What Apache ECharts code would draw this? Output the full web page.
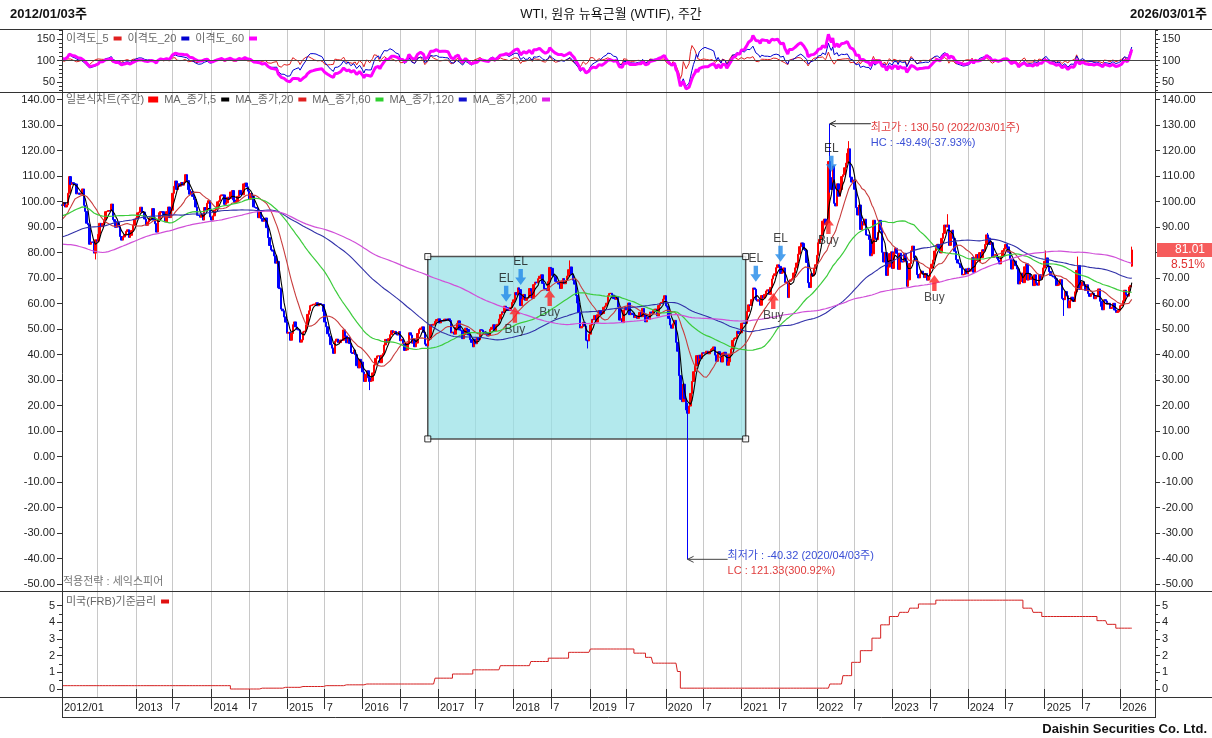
<!DOCTYPE html>
<html>
<head>
<meta charset="utf-8">
<script src="https://cdn.jsdelivr.net/npm/echarts/dist/echarts.min.js"></script>
<style>
  html, body { margin: 0; padding: 0; background: #fff; }
  #main { width: 1212px; height: 738px; }
</style>
</head>
<body>
<div id="main"></div>
<script>
var FONT = '"Liberation Sans", "Noto Sans CJK KR", sans-serif'

// weekly closes, one value per week (weeks start on Monday, first = 2012-01-16)
var w2012 = [98.46, 99.56, 97.84, 98.67, 103.24, 109.77, 106.70, 107.40, 107.06, 106.87, 103.02, 103.31, 102.83,
  103.05, 104.93, 98.49, 96.13, 91.48, 90.86, 83.23, 84.10, 84.03, 79.76, 84.96, 84.45, 87.10,
  91.44, 90.13, 91.40, 92.87, 96.01, 96.15, 96.47, 96.42, 99.00, 92.89, 92.19, 89.88, 91.86,
  90.05, 86.28, 84.86, 86.07, 86.92, 88.28, 88.91, 85.93, 86.73, 88.66, 90.80, 93.09]
var w2013 = [93.56, 95.56, 95.88, 97.77, 95.72, 95.86, 93.13, 90.68, 91.95, 93.45, 93.71, 97.23, 92.70,
  91.29, 88.01, 93.00, 95.61, 96.04, 96.02, 94.15, 91.97, 96.03, 97.85, 93.69, 96.56, 103.22,
  105.95, 108.05, 104.70, 106.94, 106.03, 107.46, 106.42, 107.65, 110.53, 108.21, 104.67, 102.87, 103.84,
  102.02, 100.81, 97.85, 94.61, 94.60, 93.84, 94.84, 92.72, 97.65, 96.60, 99.32, 100.32, 93.96]
var w2014 = [92.72, 94.37, 96.64, 97.49, 99.88, 100.30, 102.20, 102.59, 102.58, 98.89, 99.46, 101.67, 101.14,
  103.74, 104.30, 100.60, 99.76, 99.99, 102.02, 104.35, 102.71, 102.66, 106.91, 107.26, 105.74, 104.06,
  100.83, 103.13, 102.09, 97.88, 97.65, 97.35, 93.65, 95.96, 93.29, 92.27, 92.41, 93.54, 89.74,
  85.82, 82.75, 81.01, 80.54, 78.65, 75.82, 76.51, 66.15, 65.84, 57.81, 57.13, 54.73, 52.69]
var w2015 = [48.36, 48.69, 45.59, 48.24, 51.69, 52.78, 50.81, 49.76, 49.61, 44.84, 45.72, 48.87, 49.14,
  51.64, 55.74, 57.15, 59.15, 59.39, 59.69, 59.72, 60.30, 59.13, 59.96, 59.61, 59.63, 56.93,
  52.74, 50.89, 48.14, 47.12, 43.87, 42.50, 40.45, 45.22, 46.05, 44.63, 44.68, 45.70, 45.54,
  49.63, 47.26, 44.60, 46.59, 44.29, 40.74, 40.39, 41.71, 39.97, 35.62, 34.73, 38.10, 37.04]
var w2016 = [33.16, 29.42, 32.19, 33.62, 30.89, 29.44, 29.64, 32.78, 35.92, 38.50, 39.44, 39.46, 36.79,
  39.72, 40.36, 43.73, 45.92, 44.66, 46.21, 47.75, 49.33, 48.62, 49.07, 47.98, 47.64, 48.99,
  45.41, 45.95, 44.19, 41.60, 41.80, 44.49, 48.52, 47.64, 44.44, 45.88, 43.03, 44.48, 48.24,
  49.81, 50.35, 50.85, 48.70, 44.07, 43.41, 45.69, 46.06, 51.68, 51.50, 51.90, 53.02, 53.72]
var w2017 = [53.99, 52.37, 53.22, 53.17, 53.83, 53.86, 53.40, 53.99, 53.33, 48.49, 48.78, 47.97, 50.60,
  52.24, 53.18, 49.62, 49.33, 46.22, 47.84, 50.33, 49.80, 47.66, 45.83, 44.74, 43.01, 46.04,
  44.23, 46.54, 45.77, 49.71, 49.58, 48.82, 48.51, 47.87, 47.29, 47.48, 49.89, 50.66, 51.67,
  49.29, 51.45, 51.84, 53.90, 55.64, 56.74, 56.55, 58.95, 58.36, 57.36, 57.30, 58.47, 60.42]
var w2018 = [61.44, 64.30, 63.37, 66.14, 65.45, 59.20, 61.68, 63.55, 61.25, 62.04, 62.34, 65.88, 64.94,
  62.06, 67.39, 68.38, 68.10, 69.72, 70.70, 71.28, 67.88, 65.81, 65.74, 65.06, 68.58, 74.15,
  73.80, 71.01, 70.46, 68.69, 68.49, 67.63, 65.91, 68.72, 69.80, 67.75, 68.99, 70.78, 73.25,
  74.34, 71.34, 69.12, 67.59, 63.14, 60.19, 56.46, 50.42, 50.93, 52.61, 51.20, 45.59, 45.33,
  47.96]
var w2019 = [51.59, 53.80, 53.69, 55.26, 52.72, 55.59, 57.26, 55.80, 56.07, 58.52, 59.04, 60.14, 63.08,
  63.89, 64.00, 63.30, 61.94, 61.66, 62.76, 58.63, 53.50, 53.99, 52.51, 57.43, 58.47, 57.51,
  60.21, 55.63, 56.20, 55.66, 54.50, 54.87, 54.17, 55.10, 56.52, 54.85, 58.09, 55.91, 52.81,
  54.70, 53.78, 56.66, 56.20, 57.24, 57.72, 57.77, 55.17, 59.20, 60.07, 60.44, 61.72, 63.05]
var w2020 = [59.04, 58.54, 54.19, 51.56, 50.32, 52.05, 53.38, 44.76, 41.28, 31.73, 22.43, 21.51, 28.34,
  22.76, 18.27, 16.94, 19.78, 24.74, 29.43, 33.25, 35.49, 39.55, 36.26, 39.75, 38.49, 40.65,
  40.55, 40.59, 41.29, 40.27, 41.22, 42.01, 42.34, 42.97, 39.77, 37.33, 41.11, 40.25, 37.05,
  40.60, 40.88, 39.85, 35.79, 37.14, 40.13, 42.15, 45.53, 46.26, 46.57, 49.10, 48.23, 48.52]
var w2021 = [52.24, 52.36, 52.27, 52.20, 56.85, 59.47, 59.24, 61.50, 66.09, 65.61, 61.42, 60.97, 61.45,
  59.32, 63.13, 62.14, 63.58, 64.90, 65.37, 63.58, 66.32, 69.62, 70.91, 71.64, 74.05, 75.16,
  74.56, 71.81, 72.07, 73.95, 68.28, 68.44, 62.32, 68.74, 69.29, 69.72, 71.97, 73.98, 75.88,
  79.35, 82.28, 83.76, 83.57, 81.27, 80.79, 76.10, 68.15, 66.26, 71.67, 70.86, 73.79, 75.21]
var w2022 = [78.90, 83.82, 85.14, 86.82, 92.31, 93.10, 91.07, 91.59, 115.68, 109.33, 104.70, 113.90, 99.27,
  98.26, 106.95, 102.07, 104.69, 109.77, 110.49, 113.23, 115.07, 118.87, 120.67, 109.56, 107.62, 108.43,
  104.79, 97.59, 94.70, 98.62, 89.01, 92.09, 90.77, 93.06, 86.87, 86.79, 85.11, 78.74, 79.49,
  92.64, 85.61, 85.05, 87.90, 92.61, 88.96, 80.08, 76.28, 79.98, 71.02, 74.29, 79.56, 80.26]
var w2023 = [73.77, 79.86, 81.64, 79.68, 73.39, 79.72, 76.34, 76.32, 79.68, 76.68, 66.74, 69.26, 75.67,
  80.70, 82.52, 77.87, 76.78, 71.34, 70.04, 71.69, 72.67, 71.74, 70.17, 71.78, 69.16, 70.64,
  73.86, 75.42, 77.07, 80.58, 82.82, 83.19, 81.25, 79.83, 85.55, 87.51, 90.77, 90.03, 90.79,
  82.79, 87.69, 88.75, 85.54, 80.51, 77.17, 75.89, 75.54, 74.07, 71.23, 71.43, 73.56, 71.65]
var w2024 = [73.81, 72.68, 73.41, 78.01, 72.28, 76.84, 79.19, 76.49, 79.97, 78.01, 81.04, 80.63, 83.17,
  86.91, 85.66, 83.14, 83.85, 78.11, 78.26, 79.23, 77.72, 76.99, 75.53, 78.45, 80.73, 81.54,
  83.16, 82.21, 80.13, 77.16, 73.52, 76.84, 76.65, 74.83, 73.55, 67.67, 68.65, 71.92, 68.18,
  74.38, 75.56, 69.22, 71.78, 69.49, 70.38, 67.02, 71.24, 68.00, 67.20, 71.29, 69.46, 70.60,
  73.96]
var w2025 = [76.57, 77.88, 74.66, 72.53, 71.00, 70.74, 70.40, 69.76, 67.04, 67.18, 68.28, 69.36, 61.99,
  61.50, 64.68, 63.02, 58.29, 61.02, 62.49, 61.53, 60.79, 64.58, 72.98, 74.93, 65.52, 67.00,
  68.45, 67.34, 65.16, 67.33, 63.88, 62.80, 63.66, 64.01, 61.87, 62.69, 62.68, 65.72, 60.88,
  58.90, 57.54, 61.50, 60.98, 59.75, 60.09, 58.06, 58.55, 60.08, 57.44, 56.52, 56.74, 57.32]
var w2026 = [59.12, 59.44, 61.07, 65.21, 63.55, 62.89, 66.48, 67.02, 81.01]

// monthly closes 2008/01 .. 2012/01, used only to warm up the long moving averages
var histMonthly = [93, 95, 105, 112, 125, 134, 133, 116, 104, 77, 57, 41,
  42, 39, 48, 50, 59, 70, 64, 71, 69, 76, 78, 74,
  78, 76, 81, 84, 74, 75, 76, 77, 75, 82, 84, 89,
  89, 89, 103, 110, 101, 97, 97, 86, 86, 86, 97, 99,
  100.5]

// weeks whose open / high / low differ from the plain close-to-close candle
// [week, open, high, low]
var candleFix = [
  ['2012-01-16', 98.70, null, null],
  ['2012-06-25', null, null, 77.28],
  ['2016-02-08', null, null, 26.05],
  ['2018-10-01', null, 76.90, null],
  ['2018-12-24', null, null, 42.36],
  ['2020-04-20', null, 21.00, -40.32],
  ['2022-03-07', null, 130.50, 103.50],
  ['2022-06-06', null, 123.68, null],
  ['2023-09-25', null, 95.03, null],
  ['2024-04-08', null, 87.67, null],
  ['2025-01-13', null, 80.77, null],
  ['2025-04-07', null, null, 55.12],
  ['2025-06-16', null, 78.40, null],
  ['2026-03-02', 74.66, 82.30, 74.40]
]

// US effective policy rate, step changes
var rateDates = ['2012-01-01', '2014-04-07', '2014-08-25', '2014-12-15', '2015-03-16', '2015-07-01',
  '2015-10-05', '2016-01-11', '2016-12-19', '2017-03-13', '2017-06-19', '2017-10-30', '2018-03-26',
  '2018-06-18', '2018-09-24', '2019-01-01', '2019-08-01', '2019-09-27', '2019-11-01', '2020-03-01',
  '2020-03-16', '2022-03-07', '2022-05-06', '2022-06-20', '2022-08-01', '2022-09-26', '2022-11-07',
  '2022-12-19', '2023-02-06', '2023-03-27', '2023-05-08', '2023-07-31', '2024-09-20', '2024-11-11',
  '2024-12-23', '2025-09-15', '2025-11-03', '2025-12-15']
var rateValues = [0.2, 0.0, 0.05, 0.1, 0.15, 0.2,
  0.25, 0.3, 0.65, 0.9, 1.15, 1.4, 1.65,
  1.85, 2.2, 2.4, 2.15, 1.9, 1.55, 1.05,
  0.05, 0.3, 0.8, 1.6, 2.3, 3.05, 3.85,
  4.35, 4.6, 4.85, 5.1, 5.33, 4.85, 4.6,
  4.35, 4.1, 3.88, 3.65]

// strategy signals (arrow tip prices)
var elDates = ['2017-11-27', '2018-02-05', '2021-03-15', '2021-07-12', '2022-03-14']
var elPrices = [60.7, 67.3, 68.5, 76.4, 111.7]
var buyDates = ['2018-01-08', '2018-06-25', '2021-06-07', '2022-02-28', '2023-07-24']
var buyPrices = [58.7, 65.3, 64.1, 93.5, 71.2]

// drawn box
var boxDates = ['2016-11-14', '2021-01-25']
var boxPrices = [78.4, 6.9]

var highMark = { date: '2022-03-07', price: 130.50, text: '최고가 : 130.50 (2022/03/01주)', sub: 'HC : -49.49(-37.93%)' }
var lowMark = { date: '2020-04-20', price: -40.32, text: '최저가 : -40.32 (2020/04/03주)', sub: 'LC : 121.33(300.92%)' }
var lastPct = '8.51%'

var mainTicks = [-50, -40, -30, -20, -10, 0, 10, 20, 30, 40, 50, 60, 70, 80, 90, 100, 110, 120, 130, 140]
var topTicks = [50, 100, 150]
var topMinor = [30, 40, 60, 70, 80, 90, 110, 120, 130, 140, 160, 170]
var rateTicks = [0, 1, 2, 3, 4, 5]
var rateMinor = [0.5, 1.5, 2.5, 3.5, 4.5]

// ---------- build ----------
var closes = [].concat(w2012, w2013, w2014, w2015, w2016, w2017, w2018, w2019,
  w2020, w2021, w2022, w2023, w2024, w2025, w2026)
var padWeeks = 16
var DAY = 86400000
var t0 = Date.UTC(2012, 0, 16)
function two (n) { return (n < 10 ? '0' : '') + n }
function fmt (t) {
  var d = new Date(t)
  return d.getUTCFullYear() + '-' + two(d.getUTCMonth() + 1) + '-' + two(d.getUTCDate())
}
var dates = []
for (var i = 0; i < closes.length + padWeeks; i++) dates.push(fmt(t0 + i * 7 * DAY))

var marks = dates.map(function (d, i) {
  if (i === 0) return true
  var m = d.slice(5, 7)
  return m !== dates[i - 1].slice(5, 7) && (m === '01' || m === '07')
})
function isMark (i) { return marks[i] }
function xLabel (v, i) {
  if (i === 0) return v.slice(0, 4) + '/' + v.slice(5, 7)
  return v.slice(5, 7) === '01' ? v.slice(0, 4) : '7'
}

// warm-up weeks before the first week
var W = 199
var full = []
for (var k = W; k >= 1; k--) {
  var d = new Date(t0 - k * 7 * DAY)
  full.push(histMonthly[(d.getUTCFullYear() - 2008) * 12 + d.getUTCMonth()])
}
full = full.concat(closes)

function ma (n) {
  var out = []
  for (var i = 0; i < closes.length; i++) {
    var s = 0
    for (var j = 0; j < n; j++) s += full[W + i - j]
    out.push(+(s / n).toFixed(2))
  }
  return out
}
var ma5 = ma(5), ma20 = ma(20), ma60 = ma(60), ma120 = ma(120), ma200 = ma(200)
function disp (m) { return closes.map(function (c, i) { return +(c / m[i] * 100).toFixed(2) }) }

var fixMap = {}
candleFix.forEach(function (f) { fixMap[f[0]] = f })
var candles = closes.map(function (c, i) {
  var o = i > 0 ? closes[i - 1] : c
  var f = fixMap[dates[i]]
  if (f && f[1] != null) o = f[1]
  var hi = Math.max(o, c), lo = Math.min(o, c)
  if (f && f[2] != null) hi = f[2]
  if (f && f[3] != null) lo = f[3]
  return [o, c, lo, hi]
})

var rates = closes.map(function (c, i) {
  var v = null
  for (var k = 0; k < rateDates.length; k++) if (rateDates[k] <= dates[i]) v = rateValues[k]
  return v
})

var downArrow = 'path://M3,0 L7,0 L7,8 L10,8 L5,15 L0,8 L3,8 Z'
var upArrow = 'path://M5,0 L10,7 L7,7 L7,15 L3,15 L3,7 L0,7 Z'

function xAx (grid, withLabels) {
  return {
    type: 'category', gridIndex: grid, data: dates, boundaryGap: false,
    axisLine: { show: false },
    axisTick: withLabels ? { show: true, interval: isMark, length: 20, lineStyle: { color: '#333' } } : { show: false },
    axisLabel: withLabels ? {
      show: true, interval: isMark, formatter: xLabel, align: 'left', margin: 5, showMinLabel: true,
      padding: [0, 0, 0, 2], fontSize: 11, color: '#222', fontFamily: FONT
    } : { show: false },
    splitLine: { show: true, interval: isMark, lineStyle: { color: '#c8c8c8', width: 1 } }
  }
}
function yAx (grid, pos, min, max, ticks, fmtFn, tickLen) {
  return {
    type: 'value', gridIndex: grid, position: pos, min: min, max: max,
    axisLine: { show: false }, splitLine: { show: false },
    axisTick: { show: true, customValues: ticks, length: tickLen || 5, lineStyle: { color: '#333' } },
    axisLabel: fmtFn === null ? { show: false } : {
      customValues: ticks, margin: 7, fontSize: 11, color: '#222', fontFamily: FONT,
      formatter: fmtFn || function (v) { return String(v) }
    }
  }
}

var topRange = [25.58, 172.09], mainRange = [-52.94, 142.75], rateRange = [-0.51, 5.85]

var option = {
  animation: false,
  backgroundColor: '#fff',
  textStyle: { fontFamily: FONT },
  grid: [
    { left: 62, right: 57, top: 29.5, height: 63 },
    { left: 62, right: 57, top: 92.5, height: 499 },
    { left: 62, right: 57, top: 591.5, height: 106 }
  ],
  xAxis: [xAx(0, false), xAx(1, false), xAx(2, true)],
  yAxis: [
    yAx(0, 'left', topRange[0], topRange[1], topTicks),
    yAx(0, 'right', topRange[0], topRange[1], topTicks),
    yAx(1, 'left', mainRange[0], mainRange[1], mainTicks, function (v) { return v.toFixed(2) }),
    yAx(1, 'right', mainRange[0], mainRange[1], mainTicks, function (v) { return v.toFixed(2) }),
    yAx(2, 'left', rateRange[0], rateRange[1], rateTicks),
    yAx(2, 'right', rateRange[0], rateRange[1], rateTicks),
    yAx(0, 'left', topRange[0], topRange[1], topMinor, null, 3),
    yAx(0, 'right', topRange[0], topRange[1], topMinor, null, 3),
    yAx(2, 'left', rateRange[0], rateRange[1], rateMinor, null, 3),
    yAx(2, 'right', rateRange[0], rateRange[1], rateMinor, null, 3)
  ],
  legend: [
    {
      left: 66, top: 33, padding: 0, align: 'right', icon: 'rect', itemWidth: 8, itemHeight: 4, itemGap: 6,
      selectedMode: false, textStyle: { fontSize: 11, color: '#666', fontFamily: FONT },
      data: ['이격도_5', '이격도_20', '이격도_60']
    },
    {
      left: 66, top: 94, padding: 0, align: 'right', icon: 'rect', itemWidth: 8, itemHeight: 4, itemGap: 6,
      selectedMode: false, textStyle: { fontSize: 11, color: '#666', fontFamily: FONT },
      data: [{ name: '일본식차트(주간)', icon: 'rect', itemStyle: { color: '#ff0000' } },
        'MA_종가,5', 'MA_종가,20', 'MA_종가,60', 'MA_종가,120', 'MA_종가,200']
    },
    {
      left: 66, top: 596, padding: 0, align: 'right', icon: 'rect', itemWidth: 8, itemHeight: 4,
      selectedMode: false, textStyle: { fontSize: 11, color: '#666', fontFamily: FONT },
      data: ['미국(FRB)기준금리']
    }
  ],
  series: [
    {
      name: '일본식차트(주간)', type: 'candlestick', xAxisIndex: 1, yAxisIndex: 2,
      data: candles, barWidth: 2, large: false, z: 2,
      itemStyle: { color: '#ff0000', color0: '#0000ff', borderColor: '#ff0000', borderColor0: '#0000ff', borderWidth: 1 },
      markArea: {
        silent: true,
        itemStyle: { color: 'rgba(150,225,230,0.72)', borderColor: '#505050', borderWidth: 1.5 },
        data: [[{ xAxis: boxDates[0], yAxis: boxPrices[0] }, { xAxis: boxDates[1], yAxis: boxPrices[1] }]]
      }
    },
    { name: 'MA_종가,5', type: 'line', xAxisIndex: 1, yAxisIndex: 2, data: ma5, showSymbol: false, z: 3, lineStyle: { color: '#000000', width: 1.1 }, itemStyle: { color: '#000000' } },
    { name: 'MA_종가,20', type: 'line', xAxisIndex: 1, yAxisIndex: 2, data: ma20, showSymbol: false, z: 3, lineStyle: { color: '#c83c3c', width: 1.1 }, itemStyle: { color: '#e02020' } },
    { name: 'MA_종가,60', type: 'line', xAxisIndex: 1, yAxisIndex: 2, data: ma60, showSymbol: false, z: 3, lineStyle: { color: '#3ccc3c', width: 1.2 }, itemStyle: { color: '#2fd02f' } },
    { name: 'MA_종가,120', type: 'line', xAxisIndex: 1, yAxisIndex: 2, data: ma120, showSymbol: false, z: 3, lineStyle: { color: '#3030a8', width: 1.1 }, itemStyle: { color: '#1010d0' } },
    { name: 'MA_종가,200', type: 'line', xAxisIndex: 1, yAxisIndex: 2, data: ma200, showSymbol: false, z: 3, lineStyle: { color: '#d050d8', width: 1.2 }, itemStyle: { color: '#e020e8' } },
    {
      name: '이격도_5', type: 'line', xAxisIndex: 0, yAxisIndex: 0, data: disp(ma5), showSymbol: false,
      lineStyle: { color: '#e02020', width: 1 }, itemStyle: { color: '#e02020' },
      markLine: { silent: true, symbol: 'none', label: { show: false }, lineStyle: { color: '#444', type: 'solid', width: 1 }, data: [{ yAxis: 100 }] }
    },
    { name: '이격도_20', type: 'line', xAxisIndex: 0, yAxisIndex: 0, data: disp(ma20), showSymbol: false, lineStyle: { color: '#0000d0', width: 1 }, itemStyle: { color: '#0000d0' } },
    { name: '이격도_60', type: 'line', xAxisIndex: 0, yAxisIndex: 0, data: disp(ma60), showSymbol: false, lineStyle: { color: '#ff00ff', width: 3 }, itemStyle: { color: '#ff00ff' } },
    { name: '미국(FRB)기준금리', type: 'line', xAxisIndex: 2, yAxisIndex: 4, data: rates, showSymbol: false, step: 'end', lineStyle: { color: '#d42020', width: 1 }, itemStyle: { color: '#e01010' } },
    {
      type: 'scatter', xAxisIndex: 1, yAxisIndex: 2, z: 6, silent: true,
      symbol: downArrow, symbolSize: [11, 16], symbolOffset: [0, -8], itemStyle: { color: '#1f88e8' },
      label: { show: true, formatter: 'EL', position: 'top', distance: 1, color: '#111', fontSize: 12, fontFamily: FONT },
      data: elDates.map(function (d, i) { return [d, elPrices[i]] })
    },
    {
      type: 'scatter', xAxisIndex: 1, yAxisIndex: 2, z: 6, silent: true,
      symbol: upArrow, symbolSize: [11, 16], symbolOffset: [0, 8], itemStyle: { color: '#ff2020' },
      label: { show: true, formatter: 'Buy', position: 'bottom', distance: 1, color: '#222', fontSize: 12, fontFamily: FONT },
      data: buyDates.map(function (d, i) { return [d, buyPrices[i]] })
    },
    {
      type: 'scatter', xAxisIndex: 1, yAxisIndex: 2, z: 7, silent: true,
      symbol: 'rect', symbolSize: 6, itemStyle: { color: '#fff', borderColor: '#000', borderWidth: 1 },
      data: [[boxDates[0], boxPrices[0]], [boxDates[1], boxPrices[0]], [boxDates[0], boxPrices[1]], [boxDates[1], boxPrices[1]]]
    }
  ]
}

var chart = echarts.init(document.getElementById('main'))
chart.setOption(option)

function line (x1, y1, x2, y2, color, w) {
  return { type: 'line', silent: true, z: 50, shape: { x1: x1, y1: y1, x2: x2, y2: y2 }, style: { stroke: color || '#333', lineWidth: w || 1 } }
}
function text (x, y, s, o) {
  var st = { text: s, x: 0, y: 0, fill: '#333', font: '11px ' + FONT, align: 'left', verticalAlign: 'middle' }
  for (var key in o) st[key] = o[key]
  return { type: 'text', silent: true, z: 60, x: x, y: y, style: st }
}

var els = [
  text(10, 14, '2012/01/03주', { font: 'bold 13px ' + FONT, fill: '#111' }),
  text(611, 14, 'WTI, 원유 뉴욕근월 (WTIF), 주간', { font: '13px ' + FONT, fill: '#111', align: 'center' }),
  text(1207, 14, '2026/03/01주', { font: 'bold 13px ' + FONT, fill: '#111', align: 'right' }),
  text(1207, 729, 'Daishin Securities Co. Ltd.', { font: 'bold 13px ' + FONT, fill: '#111', align: 'right' }),
  text(63, 582, '적용전략 : 세익스피어', { fill: '#777' }),
  line(0, 29.5, 1212, 29.5), line(0, 92.5, 1212, 92.5), line(0, 591.5, 1212, 591.5),
  line(0, 697.5, 1212, 697.5), line(62, 717.5, 1155, 717.5),
  line(62.5, 29, 62.5, 718), line(1155.5, 29, 1155.5, 718)
]

var hp = chart.convertToPixel({ seriesIndex: 0 }, [highMark.date, highMark.price])
els.push(line(hp[0], hp[1], hp[0] + 41, hp[1], '#222'))
els.push({ type: 'polyline', silent: true, z: 50, shape: { points: [[hp[0] + 6, hp[1] - 3], [hp[0], hp[1]], [hp[0] + 6, hp[1] + 3]] }, style: { stroke: '#222', lineWidth: 1, fill: null } })
els.push(text(hp[0] + 41, hp[1] + 4, highMark.text, { fill: '#e03c3c' }))
els.push(text(hp[0] + 41, hp[1] + 19, highMark.sub, { fill: '#3a4fd6' }))

var lp = chart.convertToPixel({ seriesIndex: 0 }, [lowMark.date, lowMark.price])
els.push(line(lp[0], lp[1], lp[0] + 40, lp[1], '#444'))
els.push({ type: 'polyline', silent: true, z: 50, shape: { points: [[lp[0] + 6, lp[1] - 3], [lp[0], lp[1]], [lp[0] + 6, lp[1] + 3]] }, style: { stroke: '#444', lineWidth: 1, fill: null } })
els.push(text(lp[0] + 40, lp[1] - 3, lowMark.text, { fill: '#3a4fd6' }))
els.push(text(lp[0] + 40, lp[1] + 12, lowMark.sub, { fill: '#e03c3c' }))

var lastClose = closes[closes.length - 1]
var ty = chart.convertToPixel({ yAxisIndex: 3 }, lastClose)
els.push({ type: 'rect', silent: true, z: 52, shape: { x: 1157, y: ty - 7, width: 55, height: 14 }, style: { fill: '#f65c5c' } })
els.push(text(1205, ty, lastClose.toFixed(2), { fill: '#fff', font: '12px ' + FONT, align: 'right' }))
els.push(text(1205, ty + 15, lastPct, { fill: '#e03030', font: '12px ' + FONT, align: 'right' }))

chart.setOption({ graphic: { elements: els } })
</script>
</body>
</html>
